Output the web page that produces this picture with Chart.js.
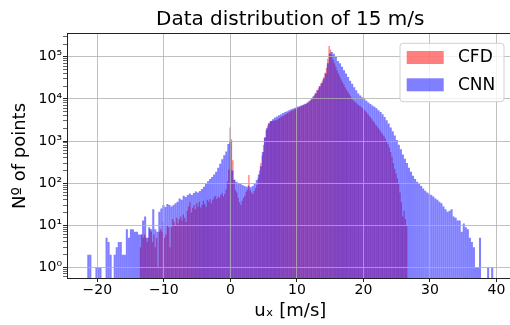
<!DOCTYPE html>
<html><head><meta charset="utf-8">
<script src="https://cdn.jsdelivr.net/npm/chart.js@4.4.1/dist/chart.umd.min.js"></script>
<style>
html,body{margin:0;padding:0;overflow:hidden;background:#fff;}
#wrap{width:522px;height:325px;}
</style></head><body>
<div id="wrap"><canvas id="c"></canvas></div>
<script>
const chartTitle = 'Data distribution of 15 m/s';
const xLabel = 'uₓ [m/s]';
const yLabel = 'Nº of points';
const seriesNames = ['CFD', 'CNN'];
const seriesColors = ['rgba(255,0,0,0.5)', 'rgba(0,0,255,0.5)'];

// histogram bins (left edge of first bin and bin width)
const cfdBinStart = -13.6, cfdBinWidth = 0.201;
const cnnBinStart = -21.5, cnnBinWidth = 0.305;

const cfdCounts = [
  3,6,5,6,5,4,5,8,7,4,
  6,3,5,1,7,8,7,12,5,6,
  10,9,3,9,14,12,10,15,11,14,
  16,13,18,15,12,22,28,35,20,26,
  30,24,33,28,36,26,30,38,32,27,
  40,36,42,33,40,46,50,42,48,45,
  52,58,48,55,70,110,210,2100,1100,350,
  120,68,60,45,35,30,38,45,50,62,
  70,155,68,60,55,65,75,90,130,200,
  300,450,800,1250,1800,2300,2700,2900,3000,3000,
  3050,3100,3200,3350,3500,3700,3850,4000,4200,4400,
  4600,4800,5000,5200,5400,5600,5800,6000,6200,6400,
  6700,7000,7300,7500,7700,8100,8600,9200,10000,11000,
  12500,14000,16000,18000,20000,23000,27000,33000,42000,55000,
  90000,180000,150000,110000,85000,70000,58000,48000,40000,34000,
  29000,25000,22000,19000,16500,14500,13000,11500,10200,9300,
  8700,8200,7700,7200,6800,6400,6000,5600,5200,4800,
  4400,4000,3600,3300,3000,2700,2400,2200,2000,1800,
  1600,1450,1300,1150,1000,850,700,550,420,300,
  220,170,130,95,60,35,16,22,14,10
];

const cnnCounts = [
  2,2,0,0,1,1,1,0,0,5,
  4,2,0,2,3,4,4,2,2,8,
  5,8,8,7,7,6,6,13,16,5,
  9,8,24,8,7,21,25,30,27,32,
  30,28,30,33,36,43,40,50,47,52,
  57,52,58,63,60,65,72,82,95,110,
  125,140,160,185,230,290,370,460,560,850,
  1000,200,120,108,100,95,90,85,82,86,
  80,85,95,118,160,250,550,1200,2000,2600,
  3000,3300,3600,3800,4100,4300,4600,4900,5100,5400,
  5700,5900,6200,6500,6700,7000,7300,7700,8200,9000,
  9800,11500,13500,16000,20000,24000,30000,40000,70000,120000,
  130000,118000,100000,80000,70000,58000,48000,40000,33000,27000,
  23000,19000,16000,13500,12000,11000,10000,9000,8200,7600,
  7000,6500,6000,5400,4900,4300,3700,3100,2600,2100,
  1700,1350,1050,820,640,480,380,300,230,185,
  150,125,108,95,85,74,66,60,56,52,
  48,43,40,36,33,28,24,21,22,24,
  16,15,13,13,7,11,9,8,5,4,
  3,1,1,5,0,0,0,1,0,1
];

const xTickValues = [-20, -10, 0, 10, 20, 30, 40];
const xTickLabels = ['−20', '−10', '0', '10', '20', '30', '40'];
const yTickValues = [1, 10, 100, 1000, 10000, 100000];
const yTickLabels = ['10⁰', '10¹', '10²', '10³', '10⁴', '10⁵'];
const xRange = [-24.55, 42.55];
const yRange = [0.557, 348000];

function toPoints(start, width, counts) {
  return counts.map((c, i) => ({ x: start + width * (i + 0.5), y: c > 0 ? c : null }));
}

const yAllTicks = [];
for (let d = -1; d <= 5; d++) {
  for (let k = 1; k <= 9; k++) {
    const v = k * Math.pow(10, d);
    if (v >= yRange[0] && v <= yRange[1]) yAllTicks.push(v);
  }
}
const isMajorY = v => yTickValues.some(t => Math.abs(t - v) / t < 1e-9);

const FONT = 'DejaVu Sans';
Chart.defaults.font.family = FONT;
Chart.defaults.color = '#000';

const gridCol = 'rgba(176,176,176,0.8)';
const tickCol = '#222';

const framePlugin = {
  id: 'frameAndLegend',
  afterDraw(chart) {
    const { ctx, chartArea: a } = chart;
    ctx.save();
    ctx.strokeStyle = '#222';
    ctx.lineWidth = 1;
    ctx.strokeRect(Math.round(a.left) + 0.5, Math.round(a.top) - 0.5,
      Math.round(a.right) - Math.round(a.left), Math.round(a.bottom) - Math.round(a.top) + 1);
    // legend
    const w = 104, h = 58.4;
    const lx = a.right - 9.5 - w, ly = a.top + 9.3;
    ctx.beginPath();
    const r = 3;
    ctx.moveTo(lx + r, ly);
    ctx.arcTo(lx + w, ly, lx + w, ly + h, r);
    ctx.arcTo(lx + w, ly + h, lx, ly + h, r);
    ctx.arcTo(lx, ly + h, lx, ly, r);
    ctx.arcTo(lx, ly, lx + w, ly, r);
    ctx.closePath();
    ctx.fillStyle = 'rgba(255,255,255,0.8)';
    ctx.fill();
    ctx.strokeStyle = '#d0d0d0';
    ctx.stroke();
    ctx.font = '17px "' + FONT + '"';
    ctx.textBaseline = 'middle';
    ctx.textAlign = 'left';
    chart.data.datasets.forEach((ds, i) => {
      const py = ly + 7.7 + i * 27.3;
      ctx.fillStyle = ds.backgroundColor;
      ctx.fillRect(lx + 6.7, py, 37, 13);
      ctx.fillStyle = '#000';
      ctx.fillText(ds.label, lx + 58, py + 7);
    });
    ctx.restore();
  }
};

new Chart(document.getElementById('c'), {
  type: 'bar',
  data: {
    datasets: [
      { label: seriesNames[0], data: toPoints(cfdBinStart, cfdBinWidth, cfdCounts),
        backgroundColor: seriesColors[0], xAxisID: 'x', order: 2 },
      { label: seriesNames[1], data: toPoints(cnnBinStart, cnnBinWidth, cnnCounts),
        backgroundColor: seriesColors[1], xAxisID: 'x2', order: 1 }
    ]
  },
  options: {
    responsive: true,
    maintainAspectRatio: false,
    animation: false,
    layout: { padding: { left: 0, right: 8.5, top: 0, bottom: 0 } },
    datasets: {
      bar: { grouped: false, barPercentage: 1, categoryPercentage: 1, borderWidth: 0, inflateAmount: 0 }
    },
    plugins: {
      legend: { display: false },
      tooltip: { enabled: false },
      title: {
        display: true, text: chartTitle, fullSize: false,
        font: { size: 20, weight: 'normal', family: FONT }, color: '#000',
        padding: { top: 8, bottom: 2 }
      }
    },
    scales: {
      x: {
        type: 'linear', min: xRange[0], max: xRange[1], offset: false,
        afterBuildTicks: s => { s.ticks = xTickValues.map(v => ({ value: v })); },
        afterFit: s => { s.height = 47; },
        ticks: { callback: (v, i) => xTickLabels[i], font: { size: 14 }, padding: 0, autoSkip: false, maxRotation: 0 },
        grid: { offset: false, color: gridCol, lineWidth: 1, z: 1, tickColor: tickCol, tickLength: 4 },
        border: { display: false },
        title: { display: true, text: xLabel, font: { size: 18 }, padding: { top: 0, bottom: 3 } }
      },
      x2: { type: 'linear', min: xRange[0], max: xRange[1], display: false, offset: false, grid: { offset: false } },
      y: {
        type: 'logarithmic', min: yRange[0], max: yRange[1],
        afterBuildTicks: s => { s.ticks = yAllTicks.map(v => ({ value: v })); },
        afterFit: s => { s.width = 67; },
        ticks: {
          callback: v => { const i = yTickValues.findIndex(t => Math.abs(t - v) / t < 1e-9); return i >= 0 ? yTickLabels[i] : ''; },
          font: { size: 14 }, padding: 1, autoSkip: false
        },
        grid: {
          color: c => (c.tick && isMajorY(c.tick.value)) ? gridCol : 'rgba(0,0,0,0)',
          lineWidth: 1, z: 1, tickColor: tickCol, tickLength: 4,
          tickWidth: c => (c.tick && isMajorY(c.tick.value)) ? 1 : 0.7
        },
        border: { display: false },
        title: { display: true, text: yLabel, font: { size: 18 }, padding: { top: 10, bottom: 0 } }
      }
    }
  },
  plugins: [framePlugin]
});
</script>
</body></html>
